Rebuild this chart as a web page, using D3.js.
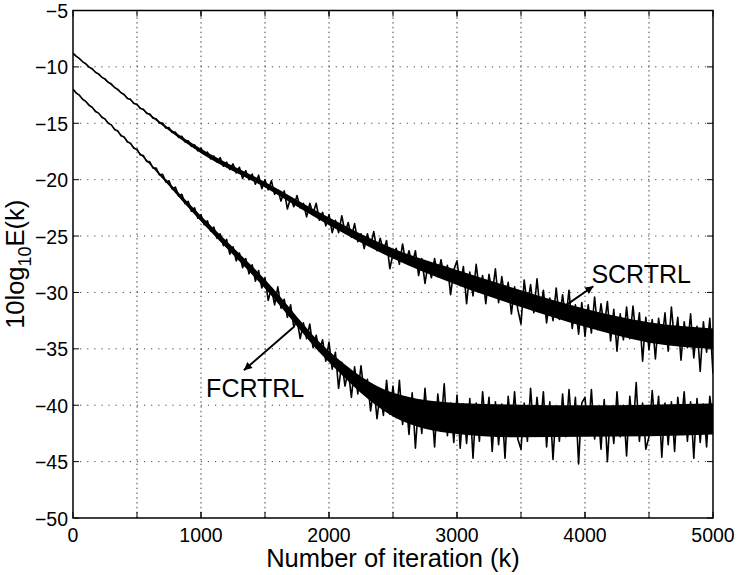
<!DOCTYPE html>
<html>
<head>
<meta charset="utf-8">
<script src="https://cdn.jsdelivr.net/npm/d3@7"></script>
<style>
  body { margin: 0; background: #fff; }
  svg { display: block; font-family: "Liberation Sans", Arial, Helvetica, sans-serif; }
</style>
</head>
<body>
<svg id="chart" width="738" height="575"></svg>
<script>
// Axis ticks, as in the figure.
const xTicks = [0, 1000, 2000, 3000, 4000, 5000];
const xGrid = [500, 1000, 1500, 2000, 2500, 3000, 3500, 4000, 4500];
const yTicks = [-50, -45, -40, -35, -30, -25, -20, -15, -10, -5];

// Curves every 25 iterations (k = 0 .. 5000).
const sampleStep = 25;

const scrtrl = [
  -8.78, -9.07, -9.25, -9.55, -9.72, -10.02, -10.17, -10.47, -10.62, -10.92,
  -11.06, -11.37, -11.51, -11.83, -11.99, -12.3, -12.44, -12.8, -12.88, -13.25,
  -13.32, -13.69, -13.75, -14.12, -14.17, -14.55, -14.6, -14.98, -14.98, -15.42,
  -15.38, -15.82, -15.78, -16.25, -16.15, -16.65, -16.55, -17.05, -16.92, -17.45,
  -17.2, -17.75, -17.55, -18.15, -17.9, -18.45, -18.05, -18.8, -18.45, -19.1,
  -18.6, -19.4, -18.9, -19.9, -19.2, -20.0, -19.5, -20.4, -19.6, -20.8,
  -20.0, -20.9, -20.1, -21.3, -20.9, -21.9, -21.0, -22.6, -21.6, -22.4,
  -21.4, -22.5, -22.1, -23.3, -22.1, -23.0, -22.1, -23.6, -22.9, -24.1,
  -23.1, -24.7, -23.6, -24.7, -23.2, -24.7, -23.8, -25.1, -23.9, -25.5,
  -24.8, -26.1, -24.8, -25.9, -24.6, -26.3, -25.2, -26.3, -25.4, -27.9,
  -26.6, -26.1, -27.5, -25.7, -27.4, -26.3, -27.5, -26.3, -28.5, -27.0,
  -29.2, -27.4, -28.7, -27.0, -28.6, -27.1, -28.7, -27.6, -30.2, -28.0,
  -27.2, -29.4, -27.7, -31.0, -28.2, -30.3, -27.5, -29.9, -28.5, -31.0,
  -28.4, -30.1, -27.9, -30.9, -28.6, -30.6, -29.1, -31.9, -29.5, -31.5,
  -32.8, -28.9, -31.2, -29.3, -31.8, -28.8, -31.7, -29.8, -32.7, -30.5,
  -32.5, -29.6, -32.4, -30.2, -32.4, -29.8, -33.2, -31.1, -33.7, -30.9,
  -33.9, -31.1, -33.6, -30.4, -33.3, -31.0, -33.1, -30.8, -34.3, -31.5,
  -35.2, -31.9, -34.2, -31.3, -34.1, -31.2, -34.1, -31.8, -36.1, -32.2,
  -35.1, -32.4, -35.9, -32.3, -34.4, -31.8, -35.2, -31.3, -34.4, -32.2,
  -36.0, -32.6, -34.9, -31.9, -35.8, -33.0, -37.0, -32.6, -35.3, -32.3,
  -37.2
];

const fcrtrl = [
  -11.97, -12.32, -12.51, -12.88, -13.06, -13.41, -13.58, -13.95, -14.1, -14.47,
  -14.62, -15.0, -15.14, -15.55, -15.68, -16.1, -16.22, -16.66, -16.77, -17.22,
  -17.3, -17.8, -17.86, -18.38, -18.42, -18.98, -18.98, -19.58, -19.52, -20.2,
  -20.1, -20.82, -20.66, -21.45, -21.3, -22.12, -21.92, -22.8, -22.5, -23.42,
  -23.1, -24.0, -23.65, -24.55, -24.2, -25.2, -24.8, -25.85, -25.3, -26.6,
  -25.95, -27.2, -26.5, -27.8, -27.0, -28.35, -27.55, -29.0, -28.05, -29.6,
  -28.7, -30.7, -29.6, -31.1, -29.5, -31.4, -30.6, -32.2, -31.1, -33.1,
  -32.4, -34.1, -32.7, -34.1, -32.8, -34.9, -33.8, -35.2, -34.2, -36.1,
  -34.4, -36.8, -35.3, -38.5, -36.2, -38.3, -36.9, -39.3, -36.6, -39.0,
  -36.5, -39.0, -37.7, -40.5, -38.3, -41.2, -38.9, -40.9, -37.8, -40.8,
  -38.3, -41.1, -37.8, -41.7, -39.3, -42.6, -38.9, -43.8, -39.8, -42.5,
  -38.5, -42.0, -39.7, -43.7, -39.0, -41.8, -38.1, -42.7, -39.8, -43.3,
  -39.1, -43.8, -39.9, -43.4, -39.4, -44.7, -39.8, -43.2, -38.8, -41.9,
  -39.3, -44.1, -39.7, -43.5, -39.9, -44.7, -39.2, -42.3, -38.8, -43.0,
  -43.9, -39.8, -43.2, -38.5, -42.6, -39.3, -42.1, -38.8, -43.7, -39.7,
  -44.8, -40.2, -43.2, -39.0, -42.8, -38.6, -42.5, -39.3, -45.2, -39.8,
  -39.3, -42.6, -38.6, -43.0, -40.2, -43.9, -39.5, -45.0, -40.3, -43.4,
  -38.8, -42.8, -40.0, -44.5, -39.2, -42.3, -38.0, -43.2, -39.8, -43.9,
  -42.8, -38.7, -42.2, -39.2, -44.6, -39.8, -43.5, -39.7, -44.1, -39.3,
  -41.9, -38.8, -43.2, -39.7, -44.7, -39.4, -43.3, -39.9, -43.7, -39.2,
  -41.5
];

// Edges of the solid dark core each curve forms, read every 500 iterations.
const bandK = [0, 500, 1000, 1500, 2000, 2500, 3000, 3500, 4000, 4500, 5000];
const scrtrlTop = [-8.75, -13.35, -17.25, -20.2, -23.35, -26.1, -28.0, -29.8, -31.45, -32.65, -33.2];
const scrtrlBottom = [-8.85, -13.45, -17.65, -20.7, -24.05, -27.0, -29.35, -31.3, -33.05, -34.45, -35.0];
const fcrtrlTop = [-11.95, -17.35, -23.2, -28.85, -35.2, -38.9, -39.8, -39.95, -40.0, -39.95, -39.85];
const fcrtrlBottom = [-12.05, -17.45, -23.7, -29.65, -36.2, -41.0, -42.55, -42.85, -42.8, -42.75, -42.6];

// Curve labels and the point (k, dB) each arrow runs from and to.
const labels = [
  { text: 'SCRTRL', at: [4050, -29.2], from: [3830, -31.3], to: [4065, -29.45] },
  { text: 'FCRTRL', at: [1040, -39.3], from: [1720, -33.1], to: [1335, -36.9] }
];

const svg = d3.select('#chart');
const margin = { left: 73, right: 25, top: 10.5, bottom: 57 };
const width = +svg.attr('width');
const height = +svg.attr('height');

const x = d3.scaleLinear().domain([0, 5000]).range([margin.left, width - margin.right]);
const y = d3.scaleLinear().domain([-50, -5]).range([height - margin.bottom, margin.top]);

const [x0, x1] = x.range();
const [y0, y1] = y.range();

svg.append('rect').attr('width', width).attr('height', height).attr('fill', '#fff');

// Dotted grid.
svg.append('g').selectAll('line')
  .data(xGrid)
  .join('line')
  .attr('x1', d => x(d)).attr('x2', d => x(d))
  .attr('y1', y0).attr('y2', y1)
  .attr('stroke', '#444')
  .attr('stroke-width', 1)
  .attr('stroke-dasharray', '1.5 3.3');

svg.append('g').selectAll('line')
  .data(yTicks.filter(d => d > -50 && d < -5))
  .join('line')
  .attr('x1', x0).attr('x2', x1)
  .attr('y1', d => y(d)).attr('y2', d => y(d))
  .attr('stroke', '#444')
  .attr('stroke-width', 1)
  .attr('stroke-dasharray', '1.2 5.9');

// Curves: dark core first, then the noisy samples traced over it.
svg.append('clipPath').attr('id', 'plot-clip')
  .append('rect')
  .attr('x', x0).attr('y', y1)
  .attr('width', x1 - x0).attr('height', y0 - y1);

const band = d3.area()
  .curve(d3.curveMonotoneX)
  .x(d => x(d.k))
  .y0(d => y(d.lo))
  .y1(d => y(d.hi));

const line = d3.line()
  .x((d, i) => x(i * sampleStep))
  .y(d => y(d));

const curves = svg.append('g').attr('clip-path', 'url(#plot-clip)');

[
  { samples: scrtrl, top: scrtrlTop, bottom: scrtrlBottom },
  { samples: fcrtrl, top: fcrtrlTop, bottom: fcrtrlBottom }
].forEach(s => {
  curves.append('path')
    .datum(bandK.map((k, i) => ({ k: k, hi: s.top[i], lo: s.bottom[i] })))
    .attr('fill', '#000')
    .attr('d', band);

  curves.append('path')
    .datum(s.samples)
    .attr('fill', 'none')
    .attr('stroke', '#000')
    .attr('stroke-width', 1.6)
    .attr('stroke-linejoin', 'round')
    .attr('d', line);
});

// Box with inward ticks on all four sides.
svg.append('rect')
  .attr('x', x0).attr('y', y1)
  .attr('width', x1 - x0).attr('height', y0 - y1)
  .attr('fill', 'none')
  .attr('stroke', '#000')
  .attr('stroke-width', 1.5);

const tickLen = 6;
const ticks = svg.append('g').attr('stroke', '#000').attr('stroke-width', 1);

xGrid.concat(xTicks).forEach(d => {
  ticks.append('line').attr('x1', x(d)).attr('x2', x(d)).attr('y1', y0).attr('y2', y0 - tickLen);
  ticks.append('line').attr('x1', x(d)).attr('x2', x(d)).attr('y1', y1).attr('y2', y1 + tickLen);
});

yTicks.forEach(d => {
  ticks.append('line').attr('x1', x0).attr('x2', x0 + tickLen).attr('y1', y(d)).attr('y2', y(d));
  ticks.append('line').attr('x1', x1).attr('x2', x1 - tickLen).attr('y1', y(d)).attr('y2', y(d));
});

// Tick labels.
const fmt = d => (d < 0 ? '\u2212' + Math.abs(d) : String(d));

svg.append('g').selectAll('text')
  .data(xTicks)
  .join('text')
  .attr('x', d => x(d))
  .attr('y', y0 + 23.5)
  .attr('text-anchor', 'middle')
  .attr('font-size', 19.5)
  .text(d => d);

svg.append('g').selectAll('text')
  .data(yTicks)
  .join('text')
  .attr('x', x0 - 5)
  .attr('y', d => y(d) + 7.5)
  .attr('text-anchor', 'end')
  .attr('font-size', 19.5)
  .text(fmt);

// Axis titles.
svg.append('text')
  .attr('x', (x0 + x1) / 2)
  .attr('y', 567)
  .attr('text-anchor', 'middle')
  .attr('font-size', 25.5)
  .text('Number of iteration (k)');

const yTitle = svg.append('text')
  .attr('transform', `translate(24,${(y0 + y1) / 2}) rotate(-90)`)
  .attr('text-anchor', 'middle')
  .attr('font-size', 25.5);
yTitle.append('tspan').text('10log');
yTitle.append('tspan').attr('font-size', 18).attr('dy', 7).text('10');
yTitle.append('tspan').attr('dy', -7).text('E(k)');

// Arrows and curve names.
svg.append('defs').append('marker')
  .attr('id', 'arrow')
  .attr('viewBox', '0 0 10 10')
  .attr('refX', 10).attr('refY', 5)
  .attr('markerWidth', 11).attr('markerHeight', 8)
  .attr('markerUnits', 'userSpaceOnUse')
  .attr('orient', 'auto')
  .append('path')
  .attr('d', 'M0,0L10,5L0,10Z')
  .attr('fill', '#000');

labels.forEach(l => {
  svg.append('line')
    .attr('x1', x(l.from[0])).attr('y1', y(l.from[1]))
    .attr('x2', x(l.to[0])).attr('y2', y(l.to[1]))
    .attr('stroke', '#000')
    .attr('stroke-width', 2)
    .attr('marker-end', 'url(#arrow)');

  svg.append('text')
    .attr('x', x(l.at[0]))
    .attr('y', y(l.at[1]))
    .attr('font-size', 25)
    .text(l.text);
});
</script>
</body>
</html>
